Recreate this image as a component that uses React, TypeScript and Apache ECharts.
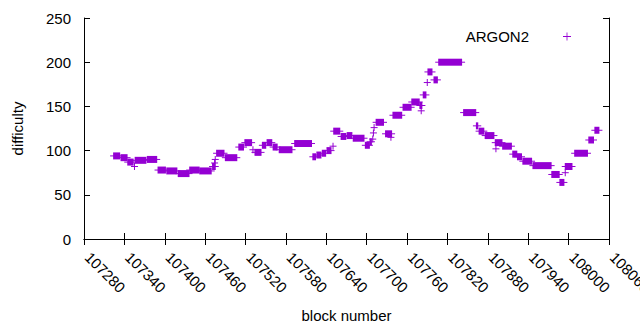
import React, { useEffect, useRef } from "react";
import * as echarts from "echarts";

// Runs of consecutive blocks sharing (approximately) the same difficulty
const blockStart = [
  107324, 107335, 107345, 107355, 107356, 107374, 107390, 107403, 107420, 107437,
  107452, 107471, 107474, 107475, 107477, 107490, 107510, 107519, 107531, 107534,
  107545, 107552, 107561, 107570, 107593, 107620, 107626, 107634, 107641, 107650,
  107651, 107662, 107671, 107680, 107698, 107705, 107709, 107710, 107711, 107714,
  107728, 107736, 107739, 107754, 107767, 107779, 107781, 107784, 107790, 107791,
  107800, 107807, 107844, 107863, 107867, 107876, 107891, 107892, 107902, 107917,
  107924, 107932, 107947, 107975, 107987, 107995, 107995, 108009, 108030, 108039,
];
const blockEnd = [
  107333, 107344, 107353, 107355, 107372, 107388, 107401, 107418, 107436, 107451,
  107469, 107475, 107474, 107475, 107488, 107507, 107517, 107529, 107531, 107543,
  107550, 107559, 107567, 107589, 107618, 107624, 107632, 107639, 107647, 107650,
  107660, 107669, 107678, 107696, 107704, 107707, 107709, 107710, 107711, 107725,
  107737, 107736, 107752, 107766, 107778, 107782, 107781, 107788, 107790, 107797,
  107805, 107841, 107862, 107865, 107874, 107889, 107901, 107892, 107915, 107923,
  107930, 107945, 107974, 107986, 107993, 108005, 107995, 108028, 108037, 108045,
];
const difficulty = [
  94, 92, 87, 82, 89, 90, 78, 77, 74, 78,
  77, 82, 86, 90, 97, 92, 104, 109, 101, 98,
  106, 109, 104, 101, 108, 93, 95, 97, 100, 105,
  122, 116, 117, 114, 106, 110, 113, 120, 126, 132,
  119, 115, 140, 149, 155, 151, 145, 163, 177, 189,
  180, 200, 143, 128, 122, 117, 109, 102, 105, 96,
  93, 88, 83, 73, 64, 82, 75, 97, 112, 123,
];

const seriesName = "ARGON2";
const xMin = 107280;
const xMax = 108060;
const xStep = 60;
const yMin = 0;
const yMax = 250;
const yStep = 50;

const COLOR = "#9400d3";
const FONT = "'Liberation Sans', Arial, sans-serif";
const FS = 15;

export default function App() {
  const ref = useRef<HTMLDivElement>(null);
  useEffect(() => {
    if (!ref.current) return;
    const chart = echarts.init(ref.current, undefined, { renderer: "svg" });
    const data = blockStart.map((s, i) => [s, blockEnd[i], difficulty[i]]);
    const H = 3.5;
    const axisLine = { show: true, lineStyle: { color: "#000", width: 1 } };
    const tick = { show: true, inside: true, length: 6, lineStyle: { color: "#000" } };
    chart.setOption({
      animation: false,
      backgroundColor: "#fff",
      textStyle: { fontFamily: FONT },
      grid: {
        left: 84,
        right: 31,
        top: 18,
        bottom: 91,
        containLabel: false,
        outerBoundsMode: "none",
      },
      legend: {
        right: 64,
        top: 24,
        align: "right",
        itemWidth: 8,
        itemHeight: 8,
        data: [
          {
            name: seriesName,
            icon: "path://M4.5,0h1v10h-1zM0,4.5h10v1h-10z",
          },
        ],
        textStyle: { fontFamily: FONT, fontSize: FS, color: "#000", padding: [0, 29, 0, 0] },
      },
      xAxis: [
        {
          type: "value",
          min: xMin,
          max: xMax,
          interval: xStep,
          position: "bottom",
          name: "block number",
          nameLocation: "middle",
          nameGap: 69,
          nameTextStyle: { fontFamily: FONT, fontSize: FS, color: "#000" },
          axisLine,
          axisTick: tick,
          splitLine: { show: false },
          axisLabel: {
            rotate: -45,
            margin: 12,
            padding: [0, 0, 0, 5],
            fontFamily: FONT,
            fontSize: FS,
            color: "#000",
            formatter: (v: number) => String(v),
            showMinLabel: true,
            showMaxLabel: true,
          },
        },
        {
          type: "value",
          min: xMin,
          max: xMax,
          interval: xStep,
          position: "top",
          axisLine,
          axisTick: tick,
          axisLabel: { show: false },
          splitLine: { show: false },
        },
      ],
      yAxis: [
        {
          type: "value",
          min: yMin,
          max: yMax,
          interval: yStep,
          position: "left",
          name: "difficulty",
          nameLocation: "middle",
          nameGap: 59,
          nameTextStyle: { fontFamily: FONT, fontSize: FS, color: "#000" },
          axisLine,
          axisTick: tick,
          splitLine: { show: false },
          axisLabel: { margin: 13, fontFamily: FONT, fontSize: FS, color: "#000" },
        },
        {
          type: "value",
          min: yMin,
          max: yMax,
          interval: yStep,
          position: "right",
          axisLine,
          axisTick: tick,
          axisLabel: { show: false },
          splitLine: { show: false },
        },
      ],
      series: [
        {
          name: seriesName,
          type: "custom",
          xAxisIndex: 0,
          yAxisIndex: 0,
          encode: { x: [0, 1], y: 2 },
          itemStyle: { color: COLOR },
          data,
          renderItem: (params: any, api: any) => {
            const s = api.coord([api.value(0), api.value(2)]);
            const e = api.coord([api.value(1), api.value(2)]);
            return {
              type: "group",
              children: [
                {
                  type: "rect",
                  shape: { x: s[0] - 0.5, y: s[1] - H, width: e[0] - s[0] + 1, height: 2 * H },
                  style: { fill: COLOR },
                },
                {
                  type: "rect",
                  shape: { x: s[0] - H, y: s[1] - 0.5, width: e[0] - s[0] + 2 * H, height: 1 },
                  style: { fill: COLOR },
                },
              ],
            };
          },
        },
      ],
    });
    return () => chart.dispose();
  }, []);
  return <div ref={ref} style={{ width: 640, height: 330, position: "absolute", left: 0, top: 0 }} />;
}
